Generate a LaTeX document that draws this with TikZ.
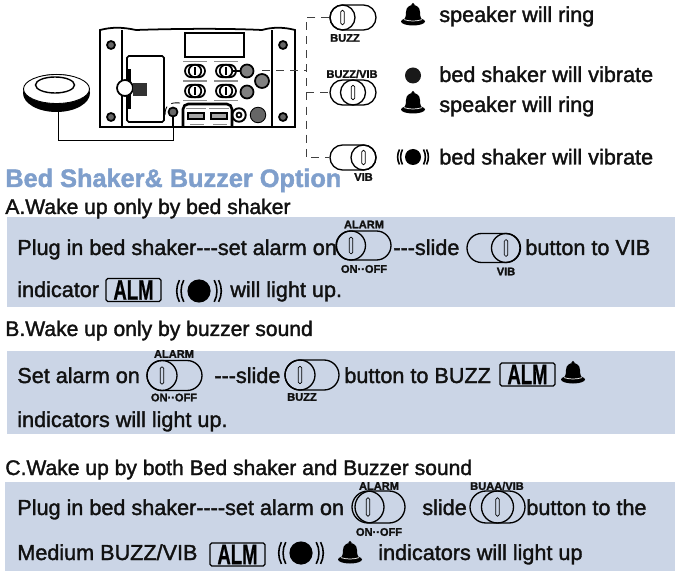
\documentclass[tikz,border=0pt]{standalone}
\usepackage{fontspec}
\setmainfont{Liberation Sans}[FakeBold=1.6]
\newfontfamily\almfont{Liberation Sans Bold}[FakeStretch=0.66,FakeBold=0.6]
\usetikzlibrary{shapes.misc,shapes.geometric}
\definecolor{panelfill}{HTML}{CBD5E6}
\definecolor{ttlblue}{HTML}{7F9FCC}
\definecolor{inktext}{HTML}{111111}
\newcommand{\slidesw}[7][]{%
  \node[pill, minimum width=#5*0.02cm, minimum height=#6*0.02cm, #1] (#2) at (#3,#4) {};
  \node[knob, minimum size=#6*0.02cm, #1] (#2k) at (#7,#4) {};
  \node[slot, minimum height=#6*0.0115cm] (#2s) at (#7,#4) {};
}
\tikzset{
  pill/.style={rounded rectangle, draw=black, line width=0.75pt, inner sep=0pt},
  knob/.style={circle, draw=black, line width=0.75pt, inner sep=0pt},
  slot/.style={rectangle, rounded corners=0.9pt, draw=black, line width=0.4pt, inner sep=0pt, minimum width=0.07cm},
  devsw/.style={line width=1pt},
  body/.style={font=\fontsize{12.3}{14}\selectfont, text=inktext, anchor=base west, inner sep=0pt, yshift=-0.02cm},
  head/.style={body, font=\fontsize{12}{14}\selectfont},
  ttl/.style={font=\fontsize{14.4}{16}\selectfont\bfseries, text=ttlblue, anchor=base west, inner sep=0pt},
  swlbl/.style={font=\fontsize{6.3}{7}\selectfont\bfseries, text=inktext, inner sep=0pt},
  almbox/.style={draw=black, line width=0.7pt, rounded corners=1pt, inner sep=0pt, minimum width=1.1cm, minimum height=0.46cm, font=\fontsize{16}{16}\almfont, text=black},
  panel/.style={fill=panelfill, draw=none},
  lead/.style={draw=black!75, line width=0.5pt, dash pattern=on 4.5pt off 3.5pt},
  cable/.style={draw=black, line width=0.5pt},
  hull/.style={draw=black, line width=1pt},
  print/.style={draw=black!45, line width=0.35pt},
  screw/.style={circle, draw=black, fill=black!60, line width=1pt, inner sep=0pt, minimum size=0.16cm},
  round/.style={circle, draw=black, fill=black!50, line width=1pt, inner sep=0pt},
  pics/bell/.style={code={
    \fill[black] (0,-10.5) circle[radius=1.7];
    \fill[black] (-9,5) .. controls (-7,2) and (-7,-1) .. (-7,-3) .. controls (-7,-8) and (-3,-10) .. (0,-10)
      .. controls (3,-10) and (7,-8) .. (7,-3) .. controls (7,-1) and (7,2) .. (9,5) -- cycle;
    \fill[black] (0,6.5) ellipse[x radius=12, y radius=4];
    \draw[white, line width=0.4pt] (-9,4.6) .. controls (-3,6.5) and (3,6.5) .. (9,4.6);
  }},
  pics/shake/.style={code={
    \fill[black] (0,0) circle[radius=8];
    \foreach \rad in {10.5,13.5}{
      \draw[black, line width=0.9pt] (-\rad,-7.5) .. controls (-\rad-2.5,-3) and (-\rad-2.5,3) .. (-\rad,7.5);
      \draw[black, line width=0.9pt] (\rad,-7.5) .. controls (\rad+2.5,-3) and (\rad+2.5,3) .. (\rad,7.5);
    }
  }},
}
\begin{document}
\begin{tikzpicture}[x=0.02cm,y=-0.02cm]
  \useasboundingbox (0,0) rectangle (679,577);
  \fill[white] (0,0) rectangle (679,577);
  \fill[panel] (7,217) rectangle (675,307);
  \fill[panel] (7,351) rectangle (675,434);
  \fill[panel] (5,482) rectangle (675,571);

  \fill[black] (56.5,93) ellipse[x radius=33.5, y radius=19];
  \node[ellipse, fill=white, draw=black, line width=0.5pt, inner sep=0pt, minimum width=1.32cm, minimum height=0.58cm] (shaker) at (56.5,89) {};
  \node[ellipse, draw=black, line width=0.8pt, inner sep=0pt, minimum width=0.78cm, minimum height=0.32cm] (shakertop) at (55,85) {};
  \coordinate (shakerbot) at (58,112);
  \draw[hull] (100,127) -- (100,30) .. controls (112,27) and (122,27) .. (136,30)
    .. controls (165,29) and (220,28) .. (262,30) .. controls (272,27) and (284,27) .. (295,30) -- (295,127) -- cycle;
  \draw[hull] (122,30) -- (122,127);
  \draw[hull] (272,30) -- (272,127);
  \draw[line width=0.6pt] (185,33) rectangle (244,57);
  \draw[line width=0.9pt, rounded corners=1pt] (127,56) rectangle (164,122);
  \foreach \name/\px/\py in {scra/111/45,scrb/283/45,scrc/111/117,scrd/283/117}{
    \node[screw] (\name) at (\px,\py) {};
  }
  \fill[black] (128,69) rectangle (131,109);
  \draw[line width=1pt, fill=white] (125,88) circle[radius=8];
  \fill[white] (125,88) circle[radius=4];
  \fill[black!80] (133,83) rectangle (147,96);
  \foreach \name/\px/\py in {swa/195/71,swb/226/71,swc/195/91,swd/226/91}{
    \node[pill, devsw, minimum width=0.4cm, minimum height=0.25cm] (\name) at (\px,\py) {};
    \node[knob, devsw, minimum size=0.25cm] (\name k) at (\px,\py) {};
    \fill[black] (\px-0.8,\py-4) rectangle (\px+0.8,\py+4);
    \draw[print] (\px-12,\py-9.5) -- (\px+12,\py-9.5);
    \draw[print] (\px-12,\py+9.5) -- (\px+12,\py+9.5);
  }
  \node[round, minimum size=0.26cm] (btna) at (247,71) {};
  \node[round, minimum size=0.28cm] (btnb) at (262,81) {};
  \node[round, minimum size=0.26cm] (btnc) at (247,92) {};
  \draw[line width=0.8pt] (swbk) -- (btna);
  \draw[line width=1.5pt, rounded corners=3pt] (183,127) -- (183,104) -- (232,104) -- (232,127);
  \foreach \px in {196,219}{
    \draw[line width=1pt, fill=black!35] (\px-8,113) rectangle (\px+8,119);
    \draw[print] (\px-10,108) -- (\px+10,108);
    \draw[print] (\px-6,124) -- (\px+8,124);
  }
  \node[circle, draw=black, line width=1.1pt, inner sep=0pt, minimum size=0.27cm] (dcjack) at (239,115) {};
  \node[circle, draw=black, line width=1pt, inner sep=0pt, minimum size=0.1cm] (dcpin) at (239,115) {};
  \node[circle, draw=black, fill=black!60, line width=0.5pt, inner sep=0pt, minimum size=0.31cm] (speaker) at (258,115) {};
  \node[circle, draw=black, fill=black!60, line width=1pt, inner sep=0pt, minimum size=0.18cm] (jack) at (173,112) {};
  \draw[line width=0.5pt, dash pattern=on 5pt off 3pt] (165,115) .. controls (165,105) and (170,102) .. (180,103);
  \coordinate (plugbot) at (173,128);
  \draw[line width=1pt] (jack.south) -- (plugbot);
  \coordinate (cablecnr) at (173,140);
  \draw[cable] (shakerbot) |- (cablecnr) -- (plugbot);

  \slidesw{swbuzz}{353}{17.5}{46}{25}{342.5}
  \slidesw{swboth}{353}{92.5}{46}{25}{353}
  \slidesw{swvib}{353}{157.5}{46}{25}{363.5}
  \coordinate (devout) at (262,70);
  \coordinate (leadtop) at (306,15);
  \coordinate (leadmid) at (306,70);
  \coordinate (leadinb) at (306,93);
  \coordinate (leadbot) at (306,157);
  \draw[lead] (devout) -- (leadmid);
  \draw[lead] (swbuzz.west) -- (leadtop |- swbuzz.west) -- (leadbot |- swvib.west) -- (swvib.west);
  \draw[lead] (leadinb |- swboth.west) -- (swboth.west);
  \node[swlbl] (lblbuzz) at (345,38) {BUZZ};
  \node[swlbl] (lblboth) at (352,74) {BUZZ/VIB};
  \node[swlbl] (lblvib) at (363.5,177) {VIB};

  \pic at (413,15) {bell};
  \fill[black!90] (413,75.5) circle[radius=8];
  \pic at (413,103) {bell};
  \pic at (413,157) {shake};
  \node[body] (txtring) at (439,21) {speaker will ring};
  \node[body] (txtvib) at (439,81) {bed shaker will vibrate};
  \node[body] (txtboth) at (439,111) {speaker will ring};
  \node[body] (txtvibb) at (439,163.5) {bed shaker will vibrate};

  \node[ttl] (ttlopt) at (5,187) {Bed Shaker\& Buzzer Option};
  \node[head] (heada) at (5,213) {A.Wake up only by bed shaker};
  \node[head] (headb) at (5,335) {B.Wake up only by buzzer sound};
  \node[head] (headc) at (5,474) {C.Wake up by both Bed shaker and Buzzer sound};

  \node[body] (alinea) at (17,254) {Plug in bed shaker{-}{-}{-}set alarm on};
  \slidesw{swalma}{363.5}{245.5}{55}{29}{351}
  \node[swlbl] (lblalma) at (364,224.5) {ALARM};
  \node[swlbl] (lblona) at (364,269) {ON··OFF};
  \node[body] (aslide) at (393,254) {{-}{-}{-}slide};
  \slidesw{swviba}{493.5}{248}{53}{29}{506}
  \node[swlbl] (lblviba) at (506,271.5) {VIB};
  \node[body] (abtn) at (525,254) {button to VIB};
  \node[body] (alineb) at (17,296) {indicator};
  \node[almbox] (alma) at (133.5,290) {ALM};
  \pic[scale=1.45] at (199,291) {shake};
  \node[body] (alight) at (230,296) {will light up.};

  \node[body] (bset) at (17,382) {Set alarm on};
  \slidesw{swalmb}{174.5}{375.5}{55}{30}{162}
  \node[swlbl] (lblalmb) at (174,354) {ALARM};
  \node[swlbl] (lblonb) at (174,397.5) {ON··OFF};
  \node[body] (bslide) at (214,382) {{-}{-}{-}slide};
  \slidesw{swbuzb}{312}{375}{54}{30}{300}
  \node[swlbl] (lblbuzb) at (302,397) {BUZZ};
  \node[body] (bbtn) at (344,382) {button to BUZZ};
  \node[almbox] (almb) at (527.5,374.5) {ALM};
  \pic at (573,373) {bell};
  \node[body] (blineb) at (17,426) {indicators will light up.};

  \node[body] (cline) at (17,514) {Plug in bed shaker{-}{-}{-}{-}set alarm on};
  \slidesw{swalmc}{380}{507}{50}{32}{368}
  \node[swlbl] (lblalmc) at (379,486) {ALARM};
  \node[swlbl] (lblonc) at (379,532) {ON··OFF};
  \node[body] (cslide) at (422,514) {slide};
  \slidesw{swbothc}{497.5}{507}{55}{32}{497.5}
  \node[swlbl] (lblbothc) at (497,486) {BUAA/VIB};
  \node[body] (cbtn) at (526,514) {button to the};
  \node[body] (clineb) at (17,559) {Medium BUZZ/VIB};
  \node[almbox] (almc) at (237.5,554.5) {ALM};
  \pic[scale=1.45] at (301,553) {shake};
  \pic at (350,553) {bell};
  \node[body] (clight) at (378,559) {indicators will light up};
\end{tikzpicture}
\end{document}
